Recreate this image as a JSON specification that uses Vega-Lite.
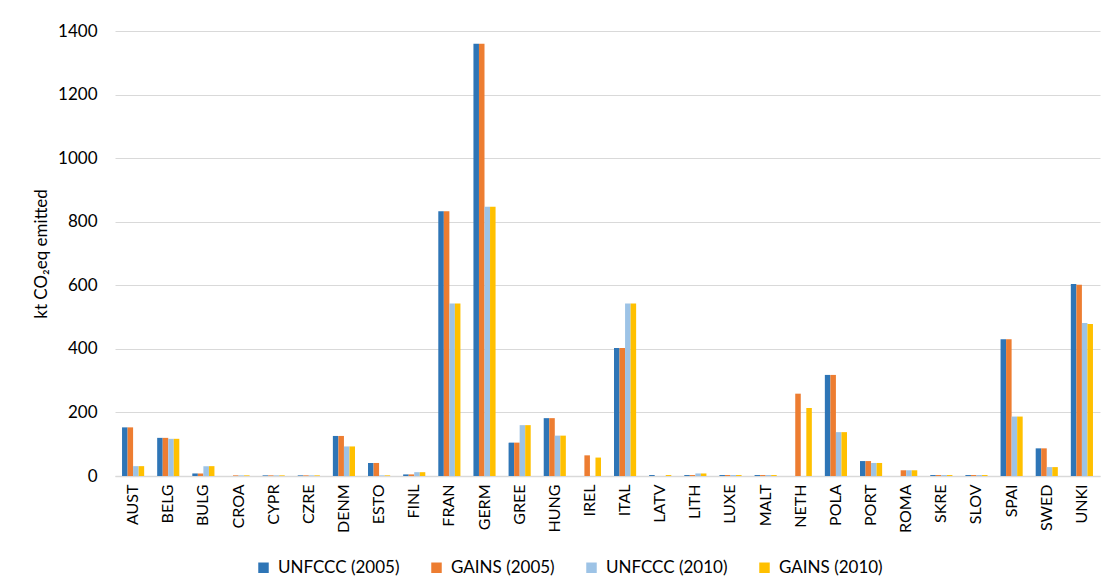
{
  "$schema": "https://vega.github.io/schema/vega-lite/v6.json",
  "width": 985,
  "height": 445,
  "autosize": {"type": "none"},
  "padding": {"left": 115, "top": 31, "right": 5, "bottom": 109},
  "background": "white",
  "data": {"values": [
      {"country":"AUST","series":"UNFCCC (2005)","value":153},{"country":"AUST","series":"GAINS (2005)","value":153},{"country":"AUST","series":"UNFCCC (2010)","value":31},{"country":"AUST","series":"GAINS (2010)","value":31},
      {"country":"BELG","series":"UNFCCC (2005)","value":120},{"country":"BELG","series":"GAINS (2005)","value":120},{"country":"BELG","series":"UNFCCC (2010)","value":117},{"country":"BELG","series":"GAINS (2010)","value":117},
      {"country":"BULG","series":"UNFCCC (2005)","value":8},{"country":"BULG","series":"GAINS (2005)","value":8},{"country":"BULG","series":"UNFCCC (2010)","value":31},{"country":"BULG","series":"GAINS (2010)","value":31},
      {"country":"CROA","series":"UNFCCC (2005)","value":0},{"country":"CROA","series":"GAINS (2005)","value":2},{"country":"CROA","series":"UNFCCC (2010)","value":2},{"country":"CROA","series":"GAINS (2010)","value":2},
      {"country":"CYPR","series":"UNFCCC (2005)","value":2},{"country":"CYPR","series":"GAINS (2005)","value":2},{"country":"CYPR","series":"UNFCCC (2010)","value":2},{"country":"CYPR","series":"GAINS (2010)","value":2},
      {"country":"CZRE","series":"UNFCCC (2005)","value":2},{"country":"CZRE","series":"GAINS (2005)","value":2},{"country":"CZRE","series":"UNFCCC (2010)","value":2},{"country":"CZRE","series":"GAINS (2010)","value":2},
      {"country":"DENM","series":"UNFCCC (2005)","value":126},{"country":"DENM","series":"GAINS (2005)","value":126},{"country":"DENM","series":"UNFCCC (2010)","value":93},{"country":"DENM","series":"GAINS (2010)","value":93},
      {"country":"ESTO","series":"UNFCCC (2005)","value":41},{"country":"ESTO","series":"GAINS (2005)","value":41},{"country":"ESTO","series":"UNFCCC (2010)","value":2},{"country":"ESTO","series":"GAINS (2010)","value":2},
      {"country":"FINL","series":"UNFCCC (2005)","value":5},{"country":"FINL","series":"GAINS (2005)","value":5},{"country":"FINL","series":"UNFCCC (2010)","value":12},{"country":"FINL","series":"GAINS (2010)","value":12},
      {"country":"FRAN","series":"UNFCCC (2005)","value":833},{"country":"FRAN","series":"GAINS (2005)","value":833},{"country":"FRAN","series":"UNFCCC (2010)","value":543},{"country":"FRAN","series":"GAINS (2010)","value":543},
      {"country":"GERM","series":"UNFCCC (2005)","value":1360},{"country":"GERM","series":"GAINS (2005)","value":1360},{"country":"GERM","series":"UNFCCC (2010)","value":847},{"country":"GERM","series":"GAINS (2010)","value":847},
      {"country":"GREE","series":"UNFCCC (2005)","value":105},{"country":"GREE","series":"GAINS (2005)","value":105},{"country":"GREE","series":"UNFCCC (2010)","value":160},{"country":"GREE","series":"GAINS (2010)","value":160},
      {"country":"HUNG","series":"UNFCCC (2005)","value":182},{"country":"HUNG","series":"GAINS (2005)","value":182},{"country":"HUNG","series":"UNFCCC (2010)","value":127},{"country":"HUNG","series":"GAINS (2010)","value":127},
      {"country":"IREL","series":"UNFCCC (2005)","value":0},{"country":"IREL","series":"GAINS (2005)","value":65},{"country":"IREL","series":"UNFCCC (2010)","value":0},{"country":"IREL","series":"GAINS (2010)","value":58},
      {"country":"ITAL","series":"UNFCCC (2005)","value":403},{"country":"ITAL","series":"GAINS (2005)","value":403},{"country":"ITAL","series":"UNFCCC (2010)","value":543},{"country":"ITAL","series":"GAINS (2010)","value":543},
      {"country":"LATV","series":"UNFCCC (2005)","value":3},{"country":"LATV","series":"GAINS (2005)","value":0},{"country":"LATV","series":"UNFCCC (2010)","value":0},{"country":"LATV","series":"GAINS (2010)","value":3},
      {"country":"LITH","series":"UNFCCC (2005)","value":3},{"country":"LITH","series":"GAINS (2005)","value":3},{"country":"LITH","series":"UNFCCC (2010)","value":8},{"country":"LITH","series":"GAINS (2010)","value":8},
      {"country":"LUXE","series":"UNFCCC (2005)","value":3},{"country":"LUXE","series":"GAINS (2005)","value":3},{"country":"LUXE","series":"UNFCCC (2010)","value":3},{"country":"LUXE","series":"GAINS (2010)","value":3},
      {"country":"MALT","series":"UNFCCC (2005)","value":3},{"country":"MALT","series":"GAINS (2005)","value":3},{"country":"MALT","series":"UNFCCC (2010)","value":3},{"country":"MALT","series":"GAINS (2010)","value":3},
      {"country":"NETH","series":"UNFCCC (2005)","value":0},{"country":"NETH","series":"GAINS (2005)","value":259},{"country":"NETH","series":"UNFCCC (2010)","value":0},{"country":"NETH","series":"GAINS (2010)","value":214},
      {"country":"POLA","series":"UNFCCC (2005)","value":318},{"country":"POLA","series":"GAINS (2005)","value":318},{"country":"POLA","series":"UNFCCC (2010)","value":138},{"country":"POLA","series":"GAINS (2010)","value":138},
      {"country":"PORT","series":"UNFCCC (2005)","value":47},{"country":"PORT","series":"GAINS (2005)","value":47},{"country":"PORT","series":"UNFCCC (2010)","value":41},{"country":"PORT","series":"GAINS (2010)","value":41},
      {"country":"ROMA","series":"UNFCCC (2005)","value":0},{"country":"ROMA","series":"GAINS (2005)","value":18},{"country":"ROMA","series":"UNFCCC (2010)","value":18},{"country":"ROMA","series":"GAINS (2010)","value":18},
      {"country":"SKRE","series":"UNFCCC (2005)","value":3},{"country":"SKRE","series":"GAINS (2005)","value":3},{"country":"SKRE","series":"UNFCCC (2010)","value":3},{"country":"SKRE","series":"GAINS (2010)","value":3},
      {"country":"SLOV","series":"UNFCCC (2005)","value":3},{"country":"SLOV","series":"GAINS (2005)","value":3},{"country":"SLOV","series":"UNFCCC (2010)","value":3},{"country":"SLOV","series":"GAINS (2010)","value":3},
      {"country":"SPAI","series":"UNFCCC (2005)","value":430},{"country":"SPAI","series":"GAINS (2005)","value":430},{"country":"SPAI","series":"UNFCCC (2010)","value":187},{"country":"SPAI","series":"GAINS (2010)","value":187},
      {"country":"SWED","series":"UNFCCC (2005)","value":87},{"country":"SWED","series":"GAINS (2005)","value":87},{"country":"SWED","series":"UNFCCC (2010)","value":28},{"country":"SWED","series":"GAINS (2010)","value":28},
      {"country":"UNKI","series":"UNFCCC (2005)","value":604},{"country":"UNKI","series":"GAINS (2005)","value":602},{"country":"UNKI","series":"UNFCCC (2010)","value":481},{"country":"UNKI","series":"GAINS (2010)","value":478}
  ]},
  "mark": {"type": "bar"},
  "encoding": {
    "x": {
      "field": "country", "type": "nominal", "sort": null, "title": null,
      "scale": {"paddingInner": 0.37, "paddingOuter": 0.2},
      "axis": {"labelAngle": -90, "labelFontSize": 16, "labelColor": "#000000", "labelPadding": 8, "ticks": false, "domainColor": "#d9d9d9", "domainWidth": 1.5, "labelFont": "Lato"}
    },
    "xOffset": {"field": "series", "type": "nominal", "sort": ["UNFCCC (2005)", "GAINS (2005)", "UNFCCC (2010)", "GAINS (2010)"]},
    "y": {
      "field": "value", "type": "quantitative",
      "title": "kt CO₂eq emitted",
      "scale": {"domain": [0, 1400], "nice": false},
      "axis": {"values": [0,200,400,600,800,1000,1200,1400], "format": "d", "labelFontSize": 17, "labelColor": "#000000", "labelPadding": 18, "ticks": false, "domain": false, "gridColor": "#d9d9d9", "gridWidth": 1.2, "titleFontSize": 17, "titleFontWeight": "normal", "titleColor": "#000000", "titlePadding": 7, "labelFont": "Lato", "titleFont": "Lato"}
    },
    "color": {
      "field": "series", "type": "nominal",
      "sort": ["UNFCCC (2005)", "GAINS (2005)", "UNFCCC (2010)", "GAINS (2010)"],
      "scale": {"domain": ["UNFCCC (2005)", "GAINS (2005)", "UNFCCC (2010)", "GAINS (2010)"], "range": ["#2E75B6", "#ED7D31", "#9DC3E6", "#FFC000"]},
      "legend": {"title": null, "orient": "none", "legendX": 140, "legendY": 528, "direction": "horizontal", "symbolType": "square", "symbolSize": 110, "symbolStrokeWidth": 0, "labelFontSize": 17, "labelColor": "#000000", "labelFont": "Lato", "columnPadding": 28, "labelOffset": 6}
    }
  },
  "config": {"view": {"stroke": null}}
}
